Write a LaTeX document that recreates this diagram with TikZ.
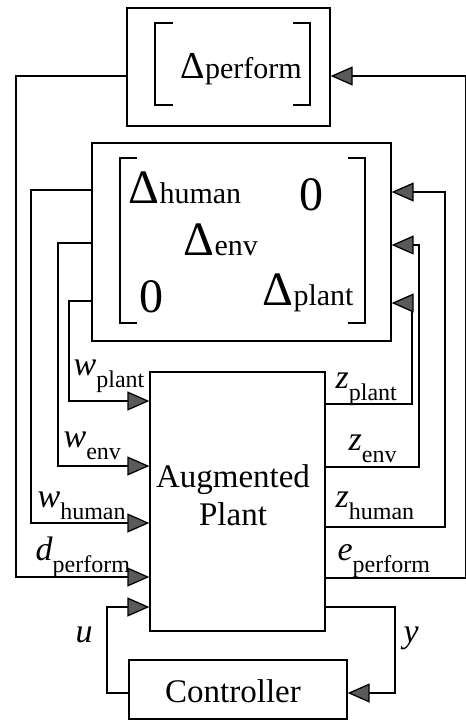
\documentclass[tikz,border=0pt]{standalone}
\usepackage{fontspec}
\setmainfont{Liberation Serif}
\usetikzlibrary{arrows.meta}
\definecolor{tipgray}{HTML}{5A5A5A}
\newcommand{\sig}[2]{\textit{#1}\raisebox{-12pt}{\fontsize{24}{26}\selectfont #2}}
\newcommand{\blkd}[1]{{\fontsize{48}{48}\selectfont Δ}#1}

\begin{document}
\begin{tikzpicture}[
  x=1pt, y=-1pt,
  line width=1.3pt,
  big/.style={font=\fontsize{30}{34}\selectfont, inner sep=0pt, anchor=base west},
  zero/.style={font=\fontsize{48}{50}\selectfont, inner sep=0pt, anchor=base},
  blk/.style={draw, inner sep=0pt, align=center, font=\fontsize{33}{38}\selectfont},
  lbl/.style={font=\fontsize{34}{36}\selectfont, inner sep=0pt, anchor=base west},
  sig/.style={-{Triangle[length=22pt, width=19pt, fill=tipgray]}},
]
\useasboundingbox (0,0) rectangle (466,721);

\node[blk, minimum width=203pt, minimum height=118pt] (perf) at (228.5,67) {};
\node[blk, minimum width=299pt, minimum height=198pt] (unc) at (241.5,242) {};
\node[blk, minimum width=175pt, minimum height=259pt] (plant) at (237.5,501.5) {};
\node[blk, minimum width=218pt, minimum height=59pt] (ctrl) at (238,689.5) {};
\node[blk, draw=none, anchor=base] (ptxt) at (233,525) {Augmented\\Plant};
\node[blk, draw=none, anchor=base] (ctxt) at (233,702) {Controller};

\draw (173,23) -| (155,105) -- (173,105);
\draw (293,23) -| (310,105) -- (293,105);
\node[big] (dperf) at (180,78) {{\fontsize{38}{38}\selectfont Δ}perform};

\draw (137,158) -| (120,323) -- (137,323);
\draw (348,158) -| (365,323) -- (348,323);
\node[big] (dhum) at (128,203) {\blkd{human}};
\node[zero] (z12) at (311,210) {0};
\node[big] (denv) at (183,255) {\blkd{env}};
\node[zero] (z21) at (151,312) {0};
\node[big] (dpl) at (262,305) {\blkd{plant}};

\draw[sig] (perf.west |- 0,76) -| (16,577) -- (plant.west |- 0,577);
\draw[sig] (unc.west |- 0,190) -| (31,523) -- (plant.west |- 0,523);
\draw[sig] (unc.west |- 0,243) -| (58,466) -- (plant.west |- 0,466);
\draw[sig] (unc.west |- 0,301) -| (69,401) -- (plant.west |- 0,401);

\draw[sig] (plant.east |- 0,404) -| (412,303) -- (unc.east |- 0,303);
\draw[sig] (plant.east |- 0,467) -| (419,245) -- (unc.east |- 0,245);
\draw[sig] (plant.east |- 0,527) -| (445,192) -- (unc.east |- 0,192);
\draw[sig] (plant.east |- 0,578) -| (466,76) -- (perf.east |- 0,76);

\draw[sig] (plant.east |- 0,607) -| (395,693) -- (ctrl.east |- 0,693);
\draw[sig] (ctrl.west |- 0,693) -| (107,607) -- (plant.west |- 0,607);

\node[lbl] (wpl) at (73,375) {\sig{w}{plant}};
\node[lbl] (wenv) at (63,447) {\sig{w}{env}};
\node[lbl] (whum) at (37,507) {\sig{w}{human}};
\node[lbl] (dpf) at (35,560) {\sig{d}{perform}};
\node[lbl] (zpl) at (335,388) {\sig{z}{plant}};
\node[lbl] (zenv) at (348,450) {\sig{z}{env}};
\node[lbl] (zhum) at (335,507) {\sig{z}{human}};
\node[lbl] (epf) at (337,560) {\sig{e}{perform}};
\node[lbl] (ulbl) at (75,642) {\textit{u}};
\node[lbl] (ylbl) at (403,642) {\textit{y}};

\end{tikzpicture}
\end{document}
